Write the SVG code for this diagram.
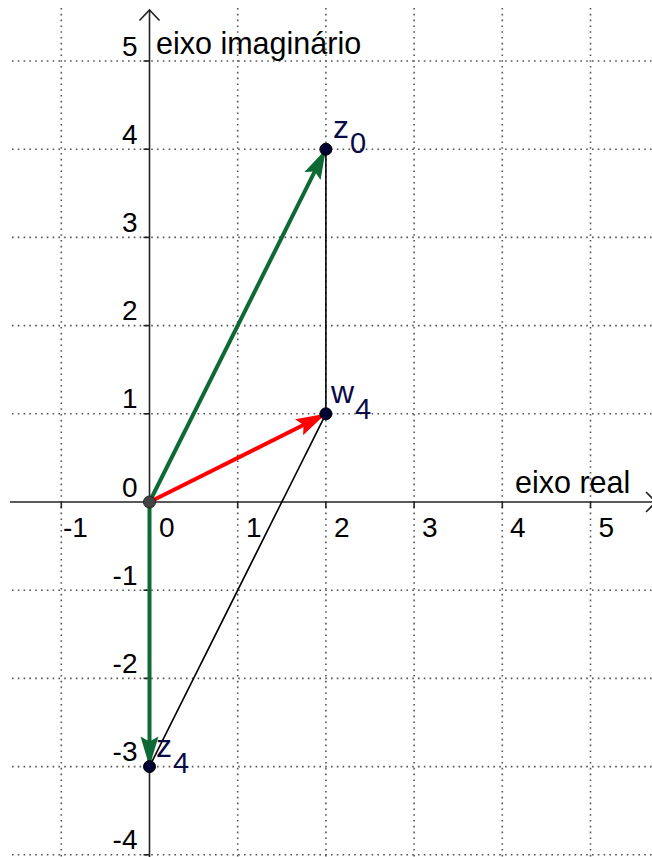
<svg xmlns="http://www.w3.org/2000/svg" width="652" height="857" viewBox="0 0 652 857">
<style>
.grid{stroke:#555;stroke-width:1.6;stroke-dasharray:1.6 4.2;fill:none}
.axis{stroke:#222;stroke-width:1.6;fill:none}
.tick{stroke:#222;stroke-width:1.6}
.num{font-family:"Liberation Sans",Arial,sans-serif;font-size:28px;fill:#000}
.lbl{font-family:"Liberation Sans",Arial,sans-serif;font-size:30.5px;fill:#000}
.pl{font-family:"Liberation Sans",Arial,sans-serif;font-size:32px;fill:#0a0a46}
.sub{font-size:29px}
.thin{stroke:#000;stroke-width:1.6;fill:none}
.vg{stroke:#0d6a34;stroke-width:4;fill:none}
.vr{stroke:#ff0000;stroke-width:4;fill:none}
.pt{fill:#000033;stroke:#000;stroke-width:1}
</style>
<defs>
<marker id="ag" markerUnits="userSpaceOnUse" orient="auto" refX="0" refY="0" markerWidth="36" markerHeight="24" overflow="visible">
<path d="M0,0 L-30,-9 L-25,0 L-30,9 Z" fill="#0d6a34"/>
</marker>
<marker id="ar" markerUnits="userSpaceOnUse" orient="auto" refX="0" refY="0" markerWidth="36" markerHeight="24" overflow="visible">
<path d="M0,0 L-30,-9 L-25,0 L-30,9 Z" fill="#ff0000"/>
</marker>
</defs>
<rect width="652" height="857" fill="#fff"/>
<g id="grid">
<line class="grid" x1="61.3" y1="8" x2="61.3" y2="857"/>
<line class="grid" x1="237.7" y1="8" x2="237.7" y2="857"/>
<line class="grid" x1="325.9" y1="8" x2="325.9" y2="857"/>
<line class="grid" x1="414.1" y1="8" x2="414.1" y2="857"/>
<line class="grid" x1="502.3" y1="8" x2="502.3" y2="857"/>
<line class="grid" x1="590.5" y1="8" x2="590.5" y2="857"/>
<line class="grid" x1="12" y1="61" x2="652" y2="61"/>
<line class="grid" x1="12" y1="149.2" x2="652" y2="149.2"/>
<line class="grid" x1="12" y1="237.4" x2="652" y2="237.4"/>
<line class="grid" x1="12" y1="325.6" x2="652" y2="325.6"/>
<line class="grid" x1="12" y1="413.8" x2="652" y2="413.8"/>
<line class="grid" x1="12" y1="590.2" x2="652" y2="590.2"/>
<line class="grid" x1="12" y1="678.4" x2="652" y2="678.4"/>
<line class="grid" x1="12" y1="766.6" x2="652" y2="766.6"/>
<line class="grid" x1="12" y1="854.8" x2="652" y2="854.8"/>
</g>
<g id="axes">
<line class="axis" x1="10" y1="502" x2="656" y2="502"/>
<polyline class="axis" points="646,492 656,502 646,512"/>
<line class="axis" x1="149.5" y1="857" x2="149.5" y2="10"/>
<polyline class="axis" points="139.5,20.5 149.5,10 159.5,20.5"/>
<g class="tick">
<line x1="61.3" y1="502" x2="61.3" y2="508"/>
<line x1="237.7" y1="502" x2="237.7" y2="508"/>
<line x1="325.9" y1="502" x2="325.9" y2="508"/>
<line x1="414.1" y1="502" x2="414.1" y2="508"/>
<line x1="502.3" y1="502" x2="502.3" y2="508"/>
<line x1="590.5" y1="502" x2="590.5" y2="508"/>
<line x1="143.5" y1="61" x2="149.5" y2="61"/>
<line x1="143.5" y1="149.2" x2="149.5" y2="149.2"/>
<line x1="143.5" y1="237.4" x2="149.5" y2="237.4"/>
<line x1="143.5" y1="325.6" x2="149.5" y2="325.6"/>
<line x1="143.5" y1="413.8" x2="149.5" y2="413.8"/>
<line x1="143.5" y1="590.2" x2="149.5" y2="590.2"/>
<line x1="143.5" y1="678.4" x2="149.5" y2="678.4"/>
<line x1="143.5" y1="766.6" x2="149.5" y2="766.6"/>
<line x1="143.5" y1="854.8" x2="149.5" y2="854.8"/>
</g>
<g class="num">
<text x="63" y="537">-1</text>
<text x="159" y="537">0</text>
<text x="246" y="537">1</text>
<text x="334" y="537">2</text>
<text x="422" y="537">3</text>
<text x="510" y="537">4</text>
<text x="598.5" y="537">5</text>
</g>
<g class="num" text-anchor="end">
<text x="137.5" y="55.5">5</text>
<text x="137.5" y="143.7">4</text>
<text x="137.5" y="231.9">3</text>
<text x="137.5" y="320.1">2</text>
<text x="137.5" y="408.3">1</text>
<text x="137.5" y="496.5">0</text>
<text x="137.5" y="584.7">-1</text>
<text x="137.5" y="672.9">-2</text>
<text x="137.5" y="761.1">-3</text>
<text x="137.5" y="849.3">-4</text>
</g>
<text class="lbl" x="156" y="54">eixo imaginário</text>
<text class="lbl" x="515" y="493">eixo real</text>
</g>
<g id="connectors">
<line class="thin" x1="325.9" y1="149.2" x2="325.9" y2="413.8"/>
<line class="thin" x1="325.9" y1="413.8" x2="149.5" y2="766.6"/>
<line class="vg" x1="149.5" y1="502" x2="325.9" y2="149.2" marker-end="url(#ag)"/>
<line class="vg" x1="149.5" y1="502" x2="149.5" y2="766.6" marker-end="url(#ag)"/>
<line class="vr" x1="149.5" y1="502" x2="325.9" y2="413.8" marker-end="url(#ar)"/>
</g>
<g id="O">
<circle cx="149.5" cy="502" r="6" fill="#444" stroke="#222" stroke-width="1"/>
</g>
<g id="z0">
<circle class="pt" cx="325.9" cy="149.2" r="6"/>
<text class="pl" x="333" y="138">z<tspan class="sub" dx="1" dy="15">0</tspan></text>
</g>
<g id="w4">
<circle class="pt" cx="325.9" cy="413.8" r="6"/>
<text class="pl" x="331" y="403">w<tspan class="sub" dx="1" dy="16">4</tspan></text>
</g>
<g id="z4">
<circle class="pt" cx="149.5" cy="766.6" r="6"/>
<text class="pl" x="156" y="757">z<tspan class="sub" dx="1" dy="16">4</tspan></text>
</g>
</svg>
